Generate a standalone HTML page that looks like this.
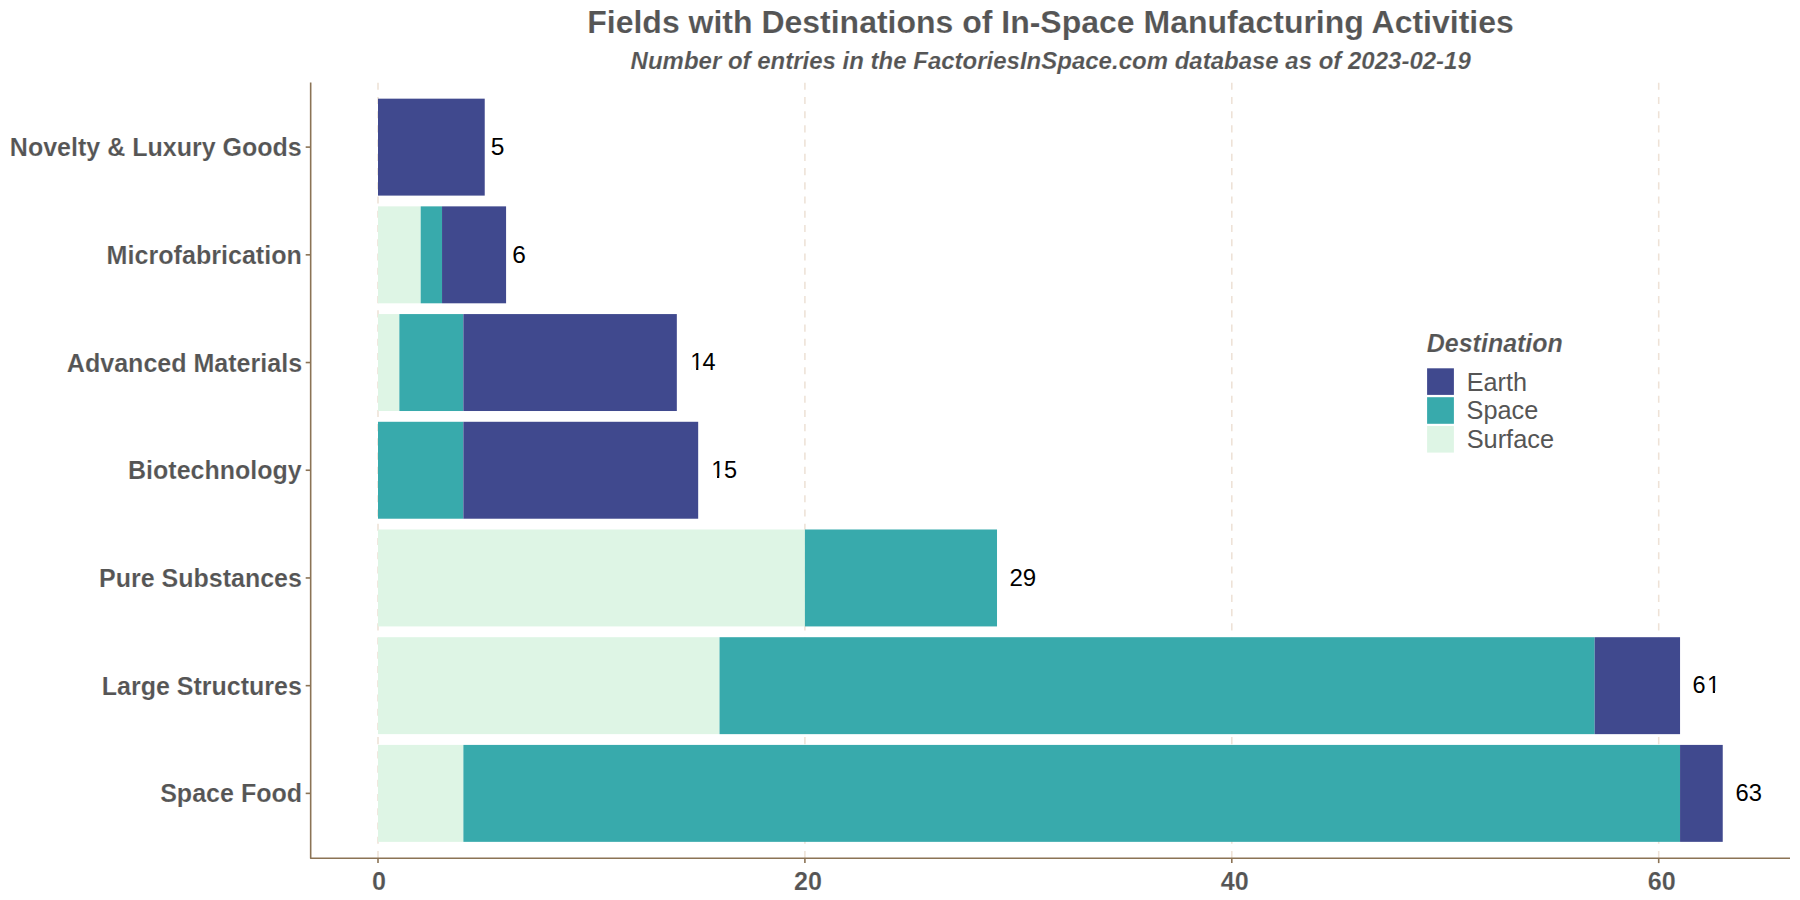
<!DOCTYPE html>
<html lang="en"><head><meta charset="utf-8"><title>Fields with Destinations of In-Space Manufacturing Activities</title>
<style>
html,body{margin:0;padding:0;background:#fff;}
svg{display:block;font-family:"Liberation Sans",Arial,sans-serif;}
.t{fill:#555555;}
.b{font-weight:bold;stroke:#fff;stroke-width:0.14px;paint-order:fill stroke;}
.i{font-style:italic;}
</style></head><body>
<svg width="1800" height="900" viewBox="0 0 1800 900">
<rect width="1800" height="900" fill="#fff"/>
<line x1="378.00" x2="378.00" y1="858.00" y2="82.50" stroke="#EEE2D7" stroke-width="1.57" stroke-dasharray="7.1 7.126"/>
<line x1="804.90" x2="804.90" y1="858.00" y2="82.50" stroke="#EEE2D7" stroke-width="1.57" stroke-dasharray="7.1 7.126"/>
<line x1="1231.80" x2="1231.80" y1="858.00" y2="82.50" stroke="#EEE2D7" stroke-width="1.57" stroke-dasharray="7.1 7.126"/>
<line x1="1658.70" x2="1658.70" y1="858.00" y2="82.50" stroke="#EEE2D7" stroke-width="1.57" stroke-dasharray="7.1 7.126"/>
<rect x="378.00" y="98.66" width="106.73" height="96.94" fill="#40498E"/>
<text  fill="#000" x="490.65" y="155.00" font-size="23.5" textLength="13.67" lengthAdjust="spacingAndGlyphs">5</text>
<text class="t b" x="9.85" y="156.00" font-size="25" textLength="291.92" lengthAdjust="spacingAndGlyphs">Novelty &amp; Luxury Goods</text>
<line x1="305.7" x2="310.5" y1="147.12" y2="147.12" stroke="#8B7355" stroke-width="1.6"/>
<rect x="378.00" y="206.36" width="42.69" height="96.94" fill="#DEF5E5"/>
<rect x="420.69" y="206.36" width="21.35" height="96.94" fill="#38AAAC"/>
<rect x="442.04" y="206.36" width="64.04" height="96.94" fill="#40498E"/>
<text  fill="#000" x="512.30" y="263.00" font-size="23.5" textLength="13.63" lengthAdjust="spacingAndGlyphs">6</text>
<text class="t b" x="106.64" y="264.00" font-size="25" textLength="195.25" lengthAdjust="spacingAndGlyphs">Microfabrication</text>
<line x1="305.7" x2="310.5" y1="254.83" y2="254.83" stroke="#8B7355" stroke-width="1.6"/>
<rect x="378.00" y="314.07" width="21.35" height="96.94" fill="#DEF5E5"/>
<rect x="399.35" y="314.07" width="64.04" height="96.94" fill="#38AAAC"/>
<rect x="463.38" y="314.07" width="213.45" height="96.94" fill="#40498E"/>
<text fill="#000" x="690.30 702.40" y="370.00" font-size="23.5">14</text>
<rect x="691.30" y="368.00" width="4.8" height="2.4" fill="#fff"/><rect x="698.32" y="368.00" width="5.2" height="2.4" fill="#fff"/>
<text class="t b" x="66.85" y="372.00" font-size="25" textLength="235.23" lengthAdjust="spacingAndGlyphs">Advanced Materials</text>
<line x1="305.7" x2="310.5" y1="362.54" y2="362.54" stroke="#8B7355" stroke-width="1.6"/>
<rect x="378.00" y="421.78" width="85.38" height="96.94" fill="#38AAAC"/>
<rect x="463.38" y="421.78" width="234.80" height="96.94" fill="#40498E"/>
<text fill="#000" x="711.20 723.90" y="478.00" font-size="23.5">15</text>
<rect x="712.20" y="476.00" width="4.8" height="2.4" fill="#fff"/><rect x="719.22" y="476.00" width="5.2" height="2.4" fill="#fff"/>
<text class="t b" x="128.05" y="479.00" font-size="25" textLength="173.61" lengthAdjust="spacingAndGlyphs">Biotechnology</text>
<line x1="305.7" x2="310.5" y1="470.25" y2="470.25" stroke="#8B7355" stroke-width="1.6"/>
<rect x="378.00" y="529.49" width="426.90" height="96.94" fill="#DEF5E5"/>
<rect x="804.90" y="529.49" width="192.11" height="96.94" fill="#38AAAC"/>
<text  fill="#000" x="1009.42" y="586.00" font-size="23.5" textLength="26.75" lengthAdjust="spacingAndGlyphs">29</text>
<text class="t b" x="99.05" y="587.00" font-size="25" textLength="202.86" lengthAdjust="spacingAndGlyphs">Pure Substances</text>
<line x1="305.7" x2="310.5" y1="577.96" y2="577.96" stroke="#8B7355" stroke-width="1.6"/>
<rect x="378.00" y="637.20" width="341.52" height="96.94" fill="#DEF5E5"/>
<rect x="719.52" y="637.20" width="875.15" height="96.94" fill="#38AAAC"/>
<rect x="1594.67" y="637.20" width="85.38" height="96.94" fill="#40498E"/>
<text fill="#000" x="1692.45 1707.00" y="693.00" font-size="23.5">61</text>
<rect x="1708.00" y="691.00" width="4.8" height="2.4" fill="#fff"/><rect x="1715.02" y="691.00" width="5.2" height="2.4" fill="#fff"/>
<text class="t b" x="101.85" y="695.00" font-size="25" textLength="200.01" lengthAdjust="spacingAndGlyphs">Large Structures</text>
<line x1="305.7" x2="310.5" y1="685.67" y2="685.67" stroke="#8B7355" stroke-width="1.6"/>
<rect x="378.00" y="744.91" width="85.38" height="96.94" fill="#DEF5E5"/>
<rect x="463.38" y="744.91" width="1216.67" height="96.94" fill="#38AAAC"/>
<rect x="1680.05" y="744.91" width="42.69" height="96.94" fill="#40498E"/>
<text  fill="#000" x="1735.44" y="801.00" font-size="23.5" textLength="26.42" lengthAdjust="spacingAndGlyphs">63</text>
<text class="t b" x="160.15" y="802.00" font-size="25" textLength="141.94" lengthAdjust="spacingAndGlyphs">Space Food</text>
<line x1="305.7" x2="310.5" y1="793.37" y2="793.37" stroke="#8B7355" stroke-width="1.6"/>
<path d="M310.67 82.50 V858.25 H1790" fill="none" stroke="#8B7355" stroke-width="1.6" stroke-linejoin="round"/>
<line x1="378.00" x2="378.00" y1="858" y2="863.1" stroke="#8B7355" stroke-width="1.6"/>
<text class="t b" x="371.94" y="890.00" font-size="25" textLength="13.98" lengthAdjust="spacingAndGlyphs">0</text>
<line x1="804.90" x2="804.90" y1="858" y2="863.1" stroke="#8B7355" stroke-width="1.6"/>
<text class="t b" x="794.03" y="890.00" font-size="25" textLength="27.95" lengthAdjust="spacingAndGlyphs">20</text>
<line x1="1231.80" x2="1231.80" y1="858" y2="863.1" stroke="#8B7355" stroke-width="1.6"/>
<text class="t b" x="1220.86" y="890.00" font-size="25" textLength="27.95" lengthAdjust="spacingAndGlyphs">40</text>
<line x1="1658.70" x2="1658.70" y1="858" y2="863.1" stroke="#8B7355" stroke-width="1.6"/>
<text class="t b" x="1647.75" y="890.00" font-size="25" textLength="27.95" lengthAdjust="spacingAndGlyphs">60</text>
<text class="t b" x="587.25" y="33.00" font-size="32" textLength="926.49" lengthAdjust="spacingAndGlyphs">Fields with Destinations of In-Space Manufacturing Activities</text>
<text class="t b i" x="630.59" y="69.00" font-size="23.6" textLength="840.20" lengthAdjust="spacingAndGlyphs">Number of entries in the FactoriesInSpace.com database as of 2023-02-19</text>
<text class="t b i" x="1426.80" y="352.00" font-size="25" textLength="136.02" lengthAdjust="spacingAndGlyphs">Destination</text>
<rect x="1427.1" y="368.30" width="26.8" height="26.6" fill="#40498E"/>
<text class="t" x="1466.74" y="391.00" font-size="25" textLength="60.19" lengthAdjust="spacingAndGlyphs">Earth</text>
<rect x="1427.1" y="397.20" width="26.8" height="26.6" fill="#38AAAC"/>
<text class="t" x="1466.64" y="419.00" font-size="25" textLength="71.62" lengthAdjust="spacingAndGlyphs">Space</text>
<rect x="1427.1" y="426.00" width="26.8" height="26.6" fill="#DEF5E5"/>
<text class="t" x="1466.63" y="448.00" font-size="25" textLength="87.46" lengthAdjust="spacingAndGlyphs">Surface</text>
</svg></body></html>
